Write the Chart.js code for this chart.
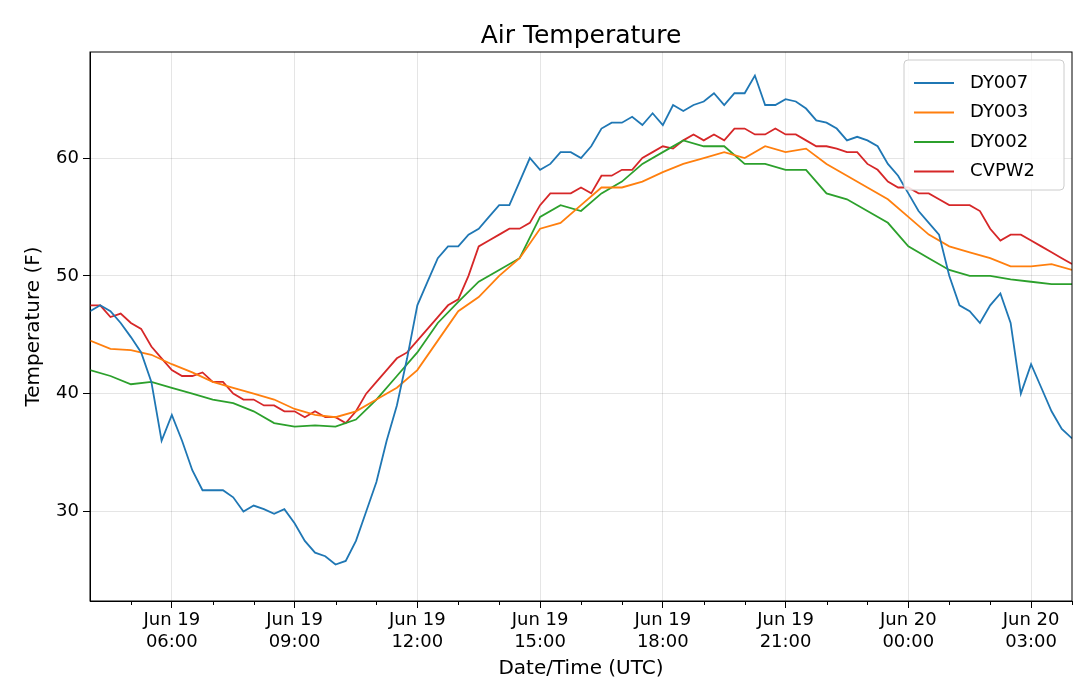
<!DOCTYPE html>
<html><head><meta charset="utf-8">
<script src="https://cdn.jsdelivr.net/npm/chart.js@4/dist/chart.umd.min.js"></script>
<style>html,body{margin:0;background:#fff}#w{width:1080px;height:695px}</style>
</head><body><div id="w"><canvas id="c"></canvas></div>
<script>
const startHour = 4;
const xTickHours = [6,9,12,15,18,21,24,27];
const xTickLabels = [["Jun 19","06:00"],["Jun 19","09:00"],["Jun 19","12:00"],["Jun 19","15:00"],["Jun 19","18:00"],["Jun 19","21:00"],["Jun 20","00:00"],["Jun 20","03:00"]];
const dy007 = [47,47.5,47,46,44.8,43.5,41,36,38.2,36,33.5,31.8,31.8,31.8,31.2,30,30.5,30.2,29.8,30.2,29,27.5,26.5,26.2,25.5,25.8,27.5,30,32.5,36,39,43,47.5,49.5,51.5,52.5,52.5,53.5,54,55,56,56,58,60,59,59.5,60.5,60.5,60,61,62.5,63,63,63.5,62.8,63.8,62.8,64.5,64,64.5,64.8,65.5,64.5,65.5,65.5,67,64.5,64.5,65,64.8,64.2,63.2,63,62.5,61.5,61.8,61.5,61,59.5,58.5,57,55.5,54.5,53.5,50,47.5,47,46,47.5,48.5,46,40,42.5,40.5,38.5,37,36.2];
const cvpw2 = [47.5,47.5,46.5,46.8,46,45.5,44,43,42,41.5,41.5,41.8,41,41,40,39.5,39.5,39,39,38.5,38.5,38,38.5,38,38,37.5,38.5,40,41,42,43,43.5,44.5,45.5,46.5,47.5,48,50,52.5,53,53.5,54,54,54.5,56,57,57,57,57.5,57,58.5,58.5,59,59,60,60.5,61,60.8,61.5,62,61.5,62,61.5,62.5,62.5,62,62,62.5,62,62,61.5,61,61,60.8,60.5,60.5,59.5,59,58,57.5,57.5,57,57,56.5,56,56,56,55.5,54,53,53.5,53.5,53,52.5,52,51.5,51];
const dy003 = [44.5,43.8,43.7,43.3,42.5,41.8,41,40.5,40,39.5,38.7,38.2,38,38.5,39.5,40.5,42,44.5,47,48.2,50,51.5,54,54.5,56,57.5,57.5,58,58.8,59.5,60,60.5,60,61,60.5,60.8,59.5,58.5,57.5,56.5,55,53.5,52.5,52,51.5,50.8,50.8,51,50.5];
const dy002 = [42,41.5,40.8,41,40.5,40,39.5,39.2,38.5,37.5,37.2,37.3,37.2,37.8,39.5,41.5,43.5,46,47.8,49.5,50.5,51.5,55,56,55.5,57,58,59.5,60.5,61.5,61,61,59.5,59.5,59,59,57,56.5,55.5,54.5,52.5,51.5,50.5,50,50,49.7,49.5,49.3,49.3];
const names = ["DY007","DY003","DY002","CVPW2"];
const colors = ["#1f77b4","#ff7f0e","#2ca02c","#d62728"];
const pts = (arr, step) => arr.map((v,i)=>({x:startHour+i*step,y:v}));
const F = "DejaVu Sans";
const legendPlugin = {id:'lg', afterDraw(ch){
  const c=ch.ctx, a=ch.chartArea; const w=160,h=130,x=a.right-w-8,y=a.top+8;
  c.save(); c.fillStyle='rgba(255,255,255,0.85)'; c.strokeStyle='#ccc'; c.lineWidth=1;
  c.beginPath(); c.roundRect(x,y,w,h,4); c.fill(); c.stroke();
  c.font='18px '+F; c.textBaseline='middle'; c.fillStyle='#000';
  ch.data.datasets.forEach((d,i)=>{const yy=y+23+i*29.5; c.strokeStyle=d.borderColor; c.lineWidth=2;
    c.beginPath(); c.moveTo(x+10,yy); c.lineTo(x+50,yy); c.stroke(); c.fillText(d.label,x+66,yy);});
  c.font='25px '+F; c.textAlign='center'; c.textBaseline='alphabetic';
  c.fillText('Air Temperature',(a.left+a.right)/2,43);
  const xs=ch.scales.x; c.strokeStyle='#000'; c.lineWidth=1;
  for(let hh=5;hh<=28;hh++){ if(xTickHours.includes(hh)) continue; const px=Math.round(xs.getPixelForValue(hh))+0.5;
    c.beginPath(); c.moveTo(px,a.bottom); c.lineTo(px,a.bottom+4); c.stroke(); }
  c.restore();
}};
new Chart(document.getElementById('c'),{type:'line',
 data:{datasets:[
  {label:names[0],data:pts(dy007,0.25),borderColor:colors[0]},
  {label:names[1],data:pts(dy003,0.5),borderColor:colors[1]},
  {label:names[2],data:pts(dy002,0.5),borderColor:colors[2]},
  {label:names[3],data:pts(cvpw2,0.25),borderColor:colors[3]}]},
 options:{responsive:true,maintainAspectRatio:false,animation:false,
  elements:{point:{radius:0},line:{borderWidth:1.8,tension:0}},
  layout:{padding:{top:52,right:8,left:22,bottom:14}},
  plugins:{legend:{display:false},tooltip:{enabled:false}},
  scales:{
   x:{type:'linear',min:4,max:28,afterFit:s=>{s.height=80;},
     afterBuildTicks:s=>{s.ticks=xTickHours.map(v=>({value:v}));},
     ticks:{autoSkip:false,maxRotation:0,color:'#000',font:{family:F,size:18},padding:2,
       callback:v=>{const i=xTickHours.indexOf(v);return i<0?'':xTickLabels[i];}},
     grid:{color:'rgba(0,0,0,0.1)',tickColor:'#000',tickLength:7},
     border:{color:'#000'},
     title:{display:true,text:'Date/Time (UTC)',color:'#000',font:{family:F,size:20},padding:{top:0,bottom:0}}},
   y:{min:22.4,max:69,afterFit:s=>{s.width=68;},
     afterBuildTicks:s=>{s.ticks=[30,40,50,60].map(v=>({value:v}));},
     ticks:{color:'#000',font:{family:F,size:18},padding:4},
     grid:{color:'rgba(0,0,0,0.1)',tickColor:'#000',tickLength:7},
     border:{color:'#000'},
     title:{display:true,text:'Temperature (F)',color:'#000',font:{family:F,size:20},padding:0}}
  }}
 ,plugins:[legendPlugin,{id:'box',afterDraw(ch){const c=ch.ctx,a=ch.chartArea;c.save();c.strokeStyle='#000';c.lineWidth=1;c.strokeRect(a.left,a.top,a.right-a.left,a.bottom-a.top);c.restore();}}]
});
</script></body></html>
